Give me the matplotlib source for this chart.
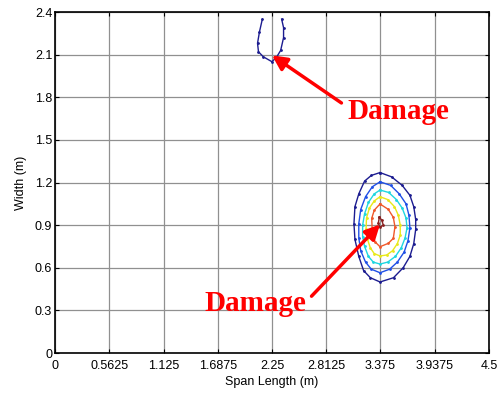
import matplotlib
matplotlib.use("Agg")
import matplotlib.pyplot as plt
import numpy as np

# contour rings (x = span length, y = width, in m)
top_x = [2.15, 2.12, 2.10, 2.11, 2.16, 2.25, 2.30, 2.34, 2.37, 2.37, 2.35]
top_y = [2.35, 2.26, 2.18, 2.12, 2.085, 2.05, 2.085, 2.13, 2.22, 2.29, 2.35]

ring1_x = [3.37, 3.49, 3.60, 3.68, 3.72, 3.74, 3.74, 3.72, 3.68, 3.61, 3.51, 3.37,
           3.27, 3.20, 3.15, 3.11, 3.10, 3.11, 3.15, 3.21, 3.28, 3.37]
ring1_y = [1.27, 1.24, 1.18, 1.11, 1.03, 0.94, 0.87, 0.77, 0.68, 0.60, 0.53, 0.50,
           0.53, 0.58, 0.68, 0.80, 0.91, 1.03, 1.12, 1.21, 1.25, 1.27]

ring2_x = [3.37, 3.48, 3.57, 3.64, 3.67, 3.68, 3.66, 3.62, 3.55, 3.47, 3.37,
           3.28, 3.22, 3.17, 3.15, 3.15, 3.17, 3.22, 3.29, 3.37]
ring2_y = [1.205, 1.18, 1.12, 1.05, 0.97, 0.88, 0.79, 0.71, 0.64, 0.59, 0.565,
           0.59, 0.64, 0.72, 0.81, 0.91, 1.01, 1.10, 1.17, 1.205]

ring3_x = [3.37, 3.46, 3.54, 3.60, 3.64, 3.65, 3.63, 3.59, 3.53, 3.45, 3.37,
           3.30, 3.25, 3.21, 3.19, 3.19, 3.21, 3.25, 3.31, 3.37]
ring3_y = [1.147, 1.13, 1.08, 1.02, 0.95, 0.88, 0.81, 0.74, 0.68, 0.64, 0.626,
           0.64, 0.68, 0.75, 0.82, 0.90, 0.98, 1.06, 1.12, 1.147]

ring4_x = [3.37, 3.45, 3.52, 3.56, 3.58, 3.58, 3.55, 3.50, 3.44, 3.37,
           3.31, 3.27, 3.24, 3.225, 3.23, 3.26, 3.31, 3.37]
ring4_y = [1.10, 1.08, 1.03, 0.97, 0.90, 0.83, 0.77, 0.72, 0.69, 0.683,
           0.70, 0.74, 0.80, 0.87, 0.95, 1.02, 1.07, 1.10]

ring5_x = [3.37, 3.456, 3.508, 3.525, 3.508, 3.456, 3.37, 3.318, 3.29, 3.284, 3.311, 3.37]
ring5_y = [1.049, 1.011, 0.955, 0.889, 0.807, 0.772, 0.748, 0.783, 0.854, 0.948, 1.006, 1.049]

ring6_x = [3.363, 3.388, 3.404, 3.370, 3.352, 3.363]
ring6_y = [0.955, 0.936, 0.901, 0.885, 0.913, 0.955]

x_ticks = [0, 0.5625, 1.125, 1.6875, 2.25, 2.8125, 3.375, 3.9375, 4.5]
x_labels = ["0", "0.5625", "1.125", "1.6875", "2.25", "2.8125", "3.375", "3.9375", "4.5"]
y_ticks = [0, 0.3, 0.6, 0.9, 1.2, 1.5, 1.8, 2.1, 2.4]
y_labels = ["0", "0.3", "0.6", "0.9", "1.2", "1.5", "1.8", "2.1", "2.4"]

# damage labels: text position, arrow tail, arrow head
label_pos = [(3.56, 1.70), (2.08, 0.35)]
arrow_tail = [(2.97, 1.76), (2.66, 0.40)]
arrow_head = [(2.25, 2.095), (3.37, 0.905)]

plt.rcParams['font.family'] = ['Liberation Sans', 'DejaVu Sans']

fig = plt.figure(figsize=(5.01, 3.94), dpi=100)
ax = fig.add_axes([0.1098, 0.104, 0.8662, 0.8655])

lines = [
    (top_x, top_y, '#1c1c90'),
    (ring1_x, ring1_y, '#1c1c90'),
    (ring2_x, ring2_y, '#1f4fe6'),
    (ring3_x, ring3_y, '#1fd6e0'),
    (ring4_x, ring4_y, '#e8e81a'),
    (ring5_x, ring5_y, '#f0582a'),
    (ring6_x, ring6_y, '#8a2020'),
]
for xs, ys, c in lines:
    ax.plot(xs, ys, color=c, lw=1.0, marker='.', ms=2, zorder=3)

for (tx, ty), tail, head in zip(label_pos, arrow_tail, arrow_head):
    ax.annotate("", xy=head, xytext=tail,
                arrowprops=dict(arrowstyle='-|>', color='#ff0000', lw=2.5,
                                mutation_scale=22, shrinkA=0, shrinkB=0),
                zorder=5)
    ax.text(tx, ty, "Damage", color='#ff0000', fontsize=21, fontweight='bold',
            family='Liberation Serif', ha='center', va='center', zorder=5)

ax.set_xlim(0, 4.5)
ax.set_ylim(0, 2.4)
ax.set_xticks(x_ticks)
ax.set_xticklabels(x_labels)
ax.set_yticks(y_ticks)
ax.set_yticklabels(y_labels)
ax.grid(True, color='#909090', lw=0.9)
ax.set_axisbelow(True)
ax.tick_params(direction='in', length=3, width=0.8, labelsize=9, pad=2,
               top=True, right=True)
ax.tick_params(axis='x', pad=5)
for s in ax.spines.values():
    s.set_linewidth(1.2)
ax.set_xlabel("Span Length (m)", fontsize=9, labelpad=3)
ax.set_ylabel("Width (m)", fontsize=9, labelpad=6)

fig.savefig("out.png", dpi=100)
